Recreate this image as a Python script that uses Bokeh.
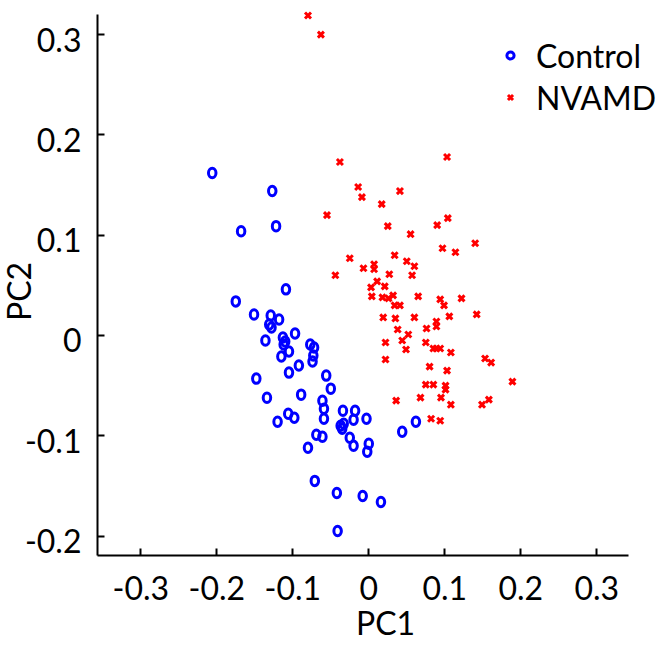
import math
from bokeh.plotting import figure
from bokeh.models import Range1d, FixedTicker, Legend, LegendItem, Label
from bokeh.embed import file_html
from bokeh.resources import INLINE

# ---- data ----
series_names = ["Control", "NVAMD"]

ctrl_x = [-0.206, -0.127, -0.168, -0.122, -0.109, -0.175, -0.151, -0.129, -0.118, -0.131,
          -0.128, -0.097, -0.136, -0.113, -0.110, -0.112, -0.105, -0.115, -0.077, -0.072,
          -0.073, -0.074, -0.092, -0.105, -0.148, -0.056, -0.050, -0.134, -0.089, -0.061,
          -0.059, -0.059, -0.106, -0.098, -0.120, -0.034, -0.018, -0.020, -0.003, -0.037,
          -0.035, -0.033, -0.025, -0.020, -0.069, -0.061, -0.080, 0.000, -0.002, 0.044,
          0.062, -0.071, -0.042, -0.008, 0.016, -0.041]
ctrl_y = [0.162, 0.144, 0.104, 0.109, 0.046, 0.034, 0.021, 0.020, 0.016, 0.011,
          0.008, 0.002, -0.005, -0.002, -0.006, -0.009, -0.016, -0.021, -0.009, -0.012,
          -0.020, -0.026, -0.030, -0.037, -0.043, -0.040, -0.053, -0.062, -0.059, -0.065,
          -0.073, -0.083, -0.078, -0.082, -0.086, -0.075, -0.075, -0.084, -0.083, -0.090,
          -0.093, -0.088, -0.102, -0.110, -0.099, -0.101, -0.112, -0.108, -0.116, -0.096,
          -0.086, -0.145, -0.157, -0.160, -0.166, -0.195]

nv_x = [-0.080, -0.063, -0.038, 0.103, -0.014, -0.009, 0.041, 0.017, -0.055, 0.104,
        0.090, 0.025, 0.055, 0.140, 0.097, 0.114, -0.025, 0.034, 0.050, 0.060,
        -0.007, 0.007, 0.007, -0.044, 0.027, 0.057, 0.011, 0.003, 0.021, 0.004,
        0.018, 0.026, 0.032, 0.065, 0.094, 0.122, 0.034, 0.041, 0.099, 0.019,
        0.035, 0.060, 0.106, 0.142, 0.089, 0.089, 0.038, 0.076, 0.052, 0.044,
        0.022, 0.075, 0.085, 0.094, 0.089, 0.049, 0.108, 0.022, 0.153, 0.161,
        0.080, 0.103, 0.189, 0.075, 0.085, 0.101, 0.101, 0.036, 0.068, 0.095,
        0.108, 0.158, 0.149, 0.082, 0.094]
nv_y = [0.319, 0.300, 0.173, 0.178, 0.148, 0.138, 0.144, 0.131, 0.120, 0.117,
        0.110, 0.109, 0.101, 0.092, 0.087, 0.083, 0.077, 0.080, 0.074, 0.069,
        0.067, 0.071, 0.066, 0.060, 0.061, 0.060, 0.054, 0.048, 0.049, 0.039,
        0.038, 0.037, 0.040, 0.039, 0.036, 0.037, 0.030, 0.030, 0.030, 0.018,
        0.017, 0.018, 0.019, 0.021, 0.014, 0.009, 0.006, 0.007, 0.001, -0.005,
        -0.007, -0.007, -0.013, -0.013, -0.013, -0.014, -0.017, -0.024, -0.023, -0.027,
        -0.031, -0.035, -0.046, -0.049, -0.049, -0.050, -0.054, -0.065, -0.062, -0.062,
        -0.069, -0.064, -0.069, -0.083, -0.085]

x_ticks = [-0.3, -0.2, -0.1, 0, 0.1, 0.2, 0.3]
x_tick_labels = ["-0.3", "-0.2", "-0.1", "0", "0.1", "0.2", "0.3"]
y_ticks = [-0.2, -0.1, 0, 0.1, 0.2, 0.3]
y_tick_labels = ["-0.2", "-0.1", "0", "0.1", "0.2", "0.3"]
x_label = "PC1"
y_label = "PC2"

# axes extent (where the axis lines are drawn)
x_axis_lo, x_axis_hi = -0.357, 0.342
y_axis_lo, y_axis_hi = -0.2193, 0.320

FONT = "Lato"
FSIZE = "32px"

p = figure(width=669, height=647, output_backend="svg", toolbar_location=None,
           x_range=Range1d(-0.4846, 0.3957), y_range=Range1d(-0.3111, 0.3340),
           min_border_left=0, min_border_right=0, min_border_top=0, min_border_bottom=0)
p.title.visible = False
p.xgrid.visible = False
p.ygrid.visible = False
p.outline_line_color = None
p.background_fill_color = "white"
p.border_fill_color = "white"

for ax in (p.xaxis[0], p.yaxis[0]):
    ax.axis_line_width = 2
    ax.axis_line_color = "black"
    ax.major_tick_line_width = 2
    ax.major_tick_line_color = "black"
    ax.major_tick_in = 7
    ax.major_tick_out = 0
    ax.minor_tick_in = 0
    ax.minor_tick_out = 0
    ax.minor_tick_line_color = None
    ax.major_label_text_font = FONT
    ax.major_label_text_font_size = FSIZE
    ax.major_label_text_color = "black"

p.xaxis.fixed_location = y_axis_lo
p.xaxis.bounds = (x_axis_lo, x_axis_hi)
p.xaxis.ticker = FixedTicker(ticks=x_ticks)
p.xaxis.major_label_overrides = dict(zip(x_ticks, x_tick_labels))
p.xaxis.major_label_standoff = 21

p.yaxis.fixed_location = x_axis_lo
p.yaxis.bounds = (y_axis_lo, y_axis_hi)
p.yaxis.ticker = FixedTicker(ticks=y_ticks)
p.yaxis.major_label_overrides = {t: "" for t in y_ticks}

# y tick labels (slightly below their ticks, as in the reference)
p.text(x=[x_axis_lo] * len(y_ticks), y=y_ticks, text=y_tick_labels,
       x_offset=-16, y_offset=5, text_align="right", text_baseline="middle",
       text_font={"value": FONT}, text_font_size=FSIZE, text_color="black")

r_ctrl = p.ellipse(ctrl_x, ctrl_y, width=7.5, height=9.5, width_units="screen", height_units="screen",
                   fill_color=None, line_color="#0000FF", line_width=3)
r_nv = p.scatter(nv_x, nv_y, marker="x", size=8.5, line_color="#FF0000", line_width=3)

# legend-only glyphs (hidden in the plot area)
r_ctrl_leg = p.scatter(ctrl_x, ctrl_y, marker="circle", size=8, fill_color=None,
                       line_color="#0000FF", line_width=3, visible=False)

legend = Legend(items=[LegendItem(label=series_names[0], renderers=[r_ctrl_leg]),
                       LegendItem(label=series_names[1], renderers=[r_nv])],
                location=(501, 529), padding=0, margin=0, spacing=0,
                glyph_width=18, glyph_height=18, label_height=42, label_standoff=17,
                border_line_color=None, background_fill_alpha=0,
                label_text_font=FONT, label_text_font_size=FSIZE, label_text_color="black")
p.add_layout(legend)

p.add_layout(Label(x=0.022, y=25, x_units="data", y_units="screen", text=x_label,
                   text_align="center", text_baseline="alphabetic",
                   text_font=FONT, text_font_size=FSIZE, text_color="black"))
p.add_layout(Label(x=18, y=356, x_units="screen", y_units="screen", text=y_label,
                   angle=math.pi / 2, text_align="center", text_baseline="alphabetic",
                   text_font=FONT, text_font_size=FSIZE, text_color="black"))

open("out.html", "w").write(file_html(p, INLINE))
